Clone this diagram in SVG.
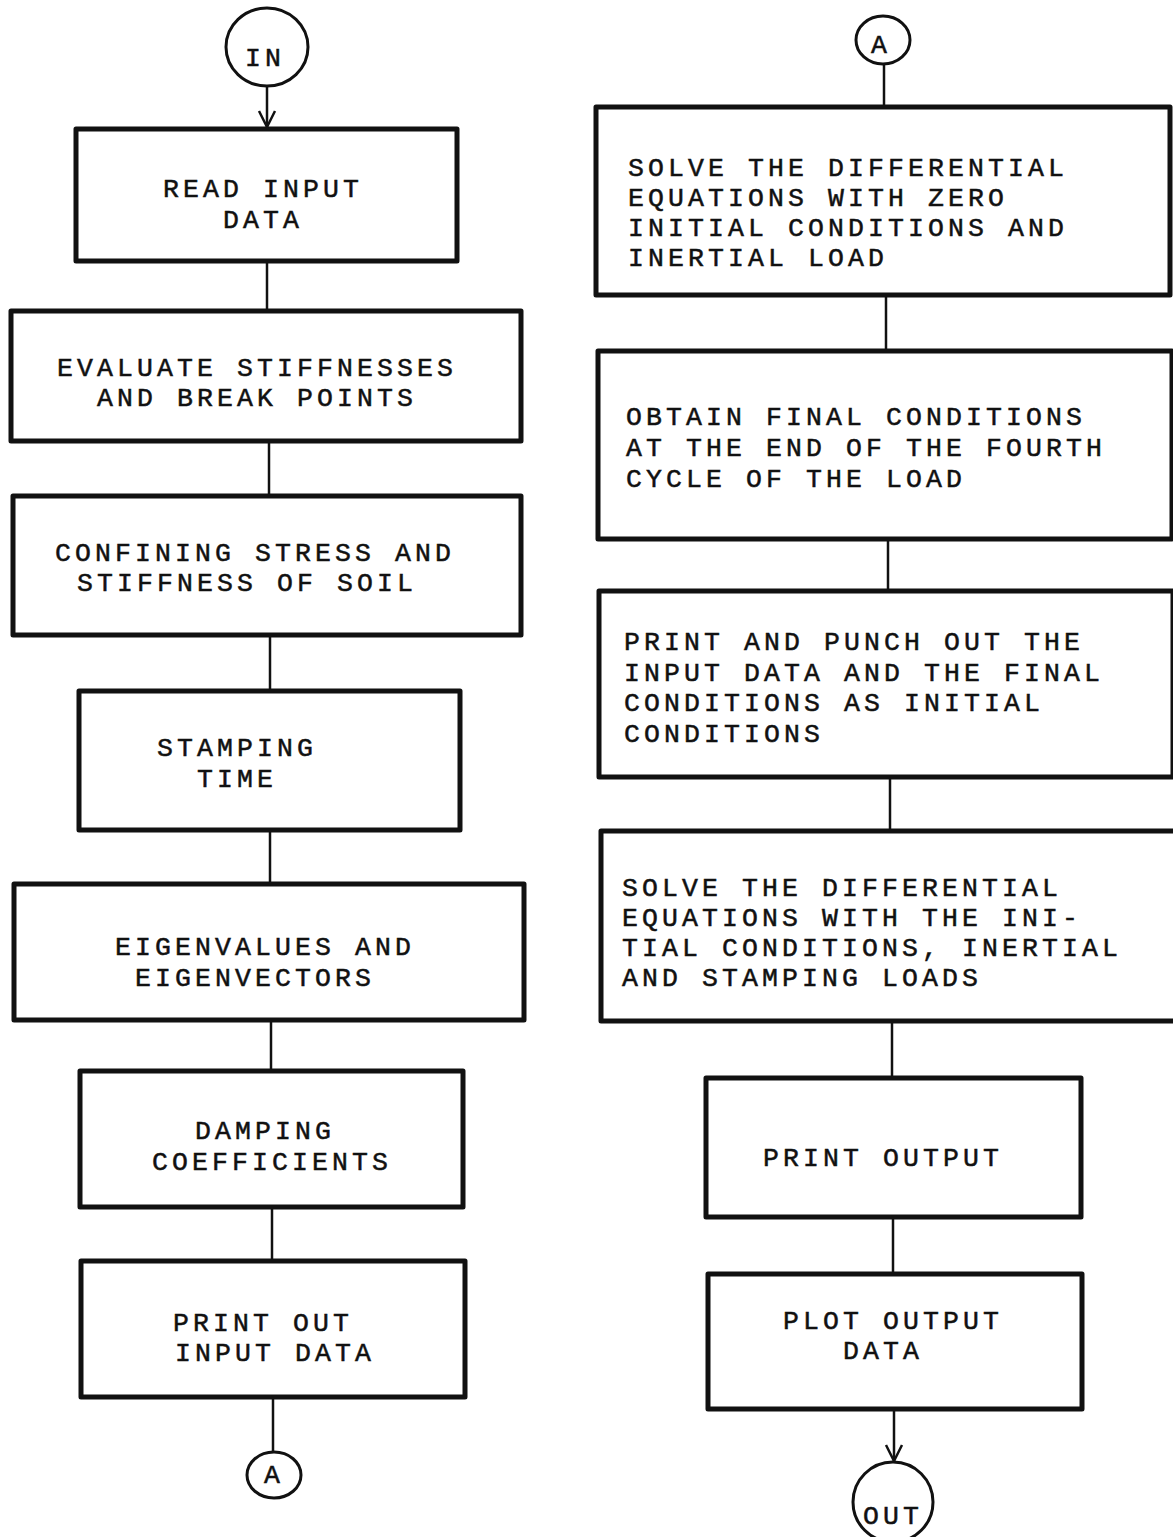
<svg xmlns="http://www.w3.org/2000/svg" width="1173" height="1537" viewBox="0 0 1173 1537">
<style>
.box{fill:#fff;stroke:#111;stroke-width:5;stroke-linejoin:round}
.circ{fill:#fff;stroke:#111;stroke-width:3}
.t{font-family:"Liberation Mono","DejaVu Sans Mono",monospace;font-size:26.5px;letter-spacing:4.1px;fill:#111;stroke:#111;stroke-width:0.5}
.c{fill:none;stroke:#111;stroke-width:2.5}
</style>
<defs>
<marker id="arr" viewBox="0 0 20 20" refX="18" refY="10" markerWidth="20" markerHeight="20" markerUnits="userSpaceOnUse" orient="auto">
<path d="M2,2 L18,10 L2,18" fill="none" stroke="#111" stroke-width="2.5"/>
</marker>
</defs>
<rect width="1173" height="1537" fill="#fff"/>
<g id="connectors">
<line class="c" x1="267" y1="86" x2="267" y2="127" marker-end="url(#arr)"/>
<line class="c" x1="267" y1="262" x2="267" y2="311"/>
<line class="c" x1="269" y1="442" x2="269" y2="496"/>
<line class="c" x1="270" y1="636" x2="270" y2="691"/>
<line class="c" x1="270" y1="831" x2="270" y2="884"/>
<line class="c" x1="271" y1="1021" x2="271" y2="1071"/>
<line class="c" x1="272" y1="1208" x2="272" y2="1261"/>
<line class="c" x1="273" y1="1398" x2="273" y2="1452"/>
<line class="c" x1="884" y1="63" x2="884" y2="107"/>
<line class="c" x1="886" y1="296" x2="886" y2="351"/>
<line class="c" x1="888" y1="540" x2="888" y2="591"/>
<line class="c" x1="890" y1="778" x2="890" y2="831"/>
<line class="c" x1="892" y1="1022" x2="892" y2="1078"/>
<line class="c" x1="893" y1="1218" x2="893" y2="1274"/>
<line class="c" x1="894" y1="1410" x2="894" y2="1461" marker-end="url(#arr)"/>
</g>
<g id="n-in"><ellipse class="circ" cx="267" cy="47" rx="41" ry="39"/><text class="t" x="245" y="66">IN</text></g>
<g id="n-read"><rect class="box" x="76" y="129" width="381" height="132"/><text class="t" x="163" y="197">READ INPUT</text><text class="t" x="223" y="228">DATA</text></g>
<g id="n-eval"><rect class="box" x="11" y="311" width="510" height="130"/><text class="t" x="57" y="376">EVALUATE STIFFNESSES</text><text class="t" x="97" y="406">AND BREAK POINTS</text></g>
<g id="n-conf"><rect class="box" x="13" y="496" width="508" height="139"/><text class="t" x="55" y="561">CONFINING STRESS AND</text><text class="t" x="77" y="591">STIFFNESS OF SOIL</text></g>
<g id="n-stamp"><rect class="box" x="79" y="691" width="381" height="139"/><text class="t" x="157" y="756">STAMPING</text><text class="t" x="197" y="787">TIME</text></g>
<g id="n-eigen"><rect class="box" x="14" y="884" width="510" height="136"/><text class="t" x="115" y="955">EIGENVALUES AND</text><text class="t" x="135" y="986">EIGENVECTORS</text></g>
<g id="n-damp"><rect class="box" x="80" y="1071" width="383" height="136"/><text class="t" x="195" y="1139">DAMPING</text><text class="t" x="152" y="1170">COEFFICIENTS</text></g>
<g id="n-printin"><rect class="box" x="81" y="1261" width="384" height="136"/><text class="t" x="173" y="1331">PRINT OUT</text><text class="t" x="175" y="1361">INPUT DATA</text></g>
<g id="n-a1"><ellipse class="circ" cx="274" cy="1475" rx="27" ry="23"/><text class="t" x="264" y="1483">A</text></g>
<g id="n-a2"><ellipse class="circ" cx="883" cy="40" rx="27" ry="24"/><text class="t" x="871" y="53">A</text></g>
<g id="n-solve1"><rect class="box" x="596" y="107" width="574" height="188"/><text class="t" x="628" y="176">SOLVE THE DIFFERENTIAL</text><text class="t" x="628" y="206">EQUATIONS WITH ZERO</text><text class="t" x="628" y="236">INITIAL CONDITIONS AND</text><text class="t" x="628" y="266">INERTIAL LOAD</text></g>
<g id="n-obtain"><rect class="box" x="598" y="351" width="574" height="188"/><text class="t" x="626" y="425">OBTAIN FINAL CONDITIONS</text><text class="t" x="626" y="456">AT THE END OF THE FOURTH</text><text class="t" x="626" y="487">CYCLE OF THE LOAD</text></g>
<g id="n-punch"><rect class="box" x="599" y="591" width="574" height="186"/><text class="t" x="624" y="650">PRINT AND PUNCH OUT THE</text><text class="t" x="624" y="681">INPUT DATA AND THE FINAL</text><text class="t" x="624" y="711">CONDITIONS AS INITIAL</text><text class="t" x="624" y="742">CONDITIONS</text></g>
<g id="n-solve2"><rect class="box" x="601" y="831" width="580" height="190"/><text class="t" x="622" y="896">SOLVE THE DIFFERENTIAL</text><text class="t" x="622" y="926">EQUATIONS WITH THE INI-</text><text class="t" x="622" y="956">TIAL CONDITIONS, INERTIAL</text><text class="t" x="622" y="986">AND STAMPING LOADS</text></g>
<g id="n-printout"><rect class="box" x="706" y="1078" width="375" height="139"/><text class="t" x="763" y="1166">PRINT OUTPUT</text></g>
<g id="n-plot"><rect class="box" x="708" y="1274" width="374" height="135"/><text class="t" x="783" y="1329">PLOT OUTPUT</text><text class="t" x="843" y="1359">DATA</text></g>
<g id="n-out"><ellipse class="circ" cx="893" cy="1502" rx="40" ry="40"/><text class="t" x="863" y="1524">OUT</text></g>
</svg>
